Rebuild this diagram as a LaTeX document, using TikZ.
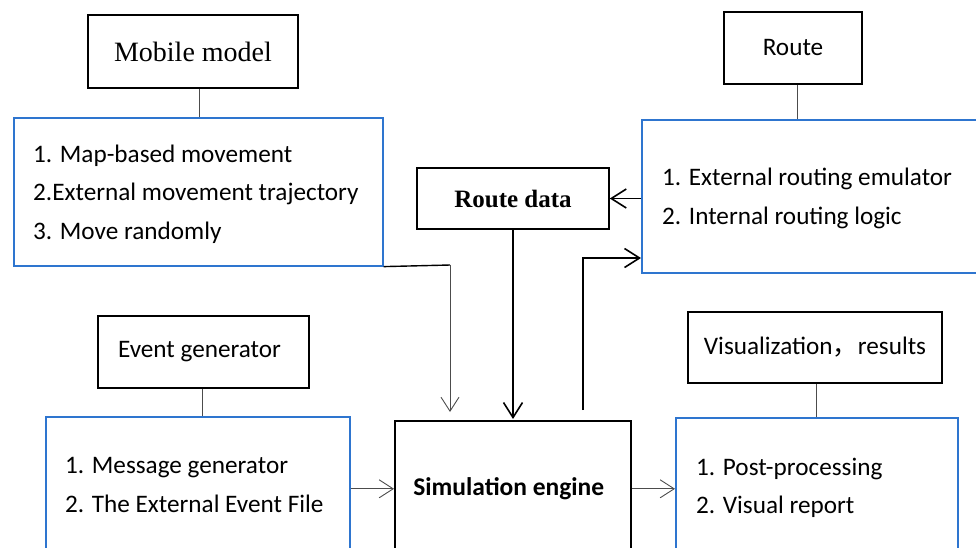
\documentclass[tikz,border=0pt]{standalone}
\usepackage{fontspec}
\usetikzlibrary{arrows.meta}
\newfontfamily\calibri{Carlito}
\newfontfamily\cjkf{Noto Sans CJK SC}
\newfontfamily\libser{Liberation Serif}
\definecolor{boxblue}{RGB}{46,117,207}
\begin{document}
\begin{tikzpicture}[x=1pt,y=-1pt,
  blackbox/.style={draw=black, line width=1.6pt, inner sep=0pt},
  bluebox/.style={draw=boxblue, line width=1.6pt, inner sep=0pt},
  cfont/.style={font=\calibri\fontsize{25.2}{28}\selectfont},
  ltext/.style={anchor=base west, inner sep=0pt, cfont},
  conn/.style={draw=black!70, line width=0.9pt},
  thinarrow/.style={draw=black!70, line width=0.9pt, -{Straight Barb[length=14pt,width=18pt]}},
  thickarrow/.style={draw=black, line width=1.6pt, -{Straight Barb[length=15pt,width=19pt]}}]
\useasboundingbox (0,0) rectangle (976,547);
\clip (0,0) rectangle (976,547);

% Mobile model
\node[blackbox, minimum width=210pt, minimum height=73pt, font=\libser\fontsize{28}{32}\selectfont] (mm) at (193,51.5) {Mobile model};
\node[bluebox, minimum width=369pt, minimum height=148pt, anchor=north west] (ml) at (13,117) {};
\node[ltext] (ml1) at (33,162) {1. Map-based movement};
\node[ltext] (ml2) at (33,200) {2.External movement trajectory};
\node[ltext] (ml3) at (33,239) {3. Move randomly};

% Route data
\node[blackbox, minimum width=192pt, minimum height=61pt, font=\libser\bfseries\fontsize{25}{30}\selectfont] (rd) at (513,198.5) {Route data};

% Route
\node[blackbox, minimum width=138pt, minimum height=72pt, cfont] (rt) at (793,48) {Route};
\node[bluebox, minimum width=345pt, minimum height=153pt, anchor=north west] (rl) at (641,119) {};
\node[ltext] (rl1) at (662,185) {1. External routing emulator};
\node[ltext] (rl2) at (662,224) {2. Internal routing logic};

% Event generator
\node[blackbox, minimum width=211pt, minimum height=72pt, cfont] (eg) at (203.5,352) {\hspace*{-8pt}Event generator};
\node[bluebox, minimum width=304pt, minimum height=150pt, anchor=north west] (el) at (45,416) {};
\node[ltext] (el1) at (65,473) {1. Message generator};
\node[ltext] (el2) at (65,512) {2. The External Event File};

% Simulation engine
\node[blackbox, minimum width=236pt, minimum height=136pt, anchor=north west, font=\calibri\bfseries\fontsize{25.5}{28}\selectfont] (sim) at (394,420) {Simulation engine\hspace*{8pt}};

% Visualization
\node[blackbox, minimum width=254pt, minimum height=71pt, cfont] (vr) at (815,347.5) {Visualization{\cjkf ，}results};
\node[bluebox, minimum width=282pt, minimum height=150pt, anchor=north west] (vl) at (675,417) {};
\node[ltext] (vl1) at (696,475) {1. Post-processing};
\node[ltext] (vl2) at (696,513) {2. Visual report};

% plain connectors
\draw[conn] ([xshift=6pt]mm.south) -- ([xshift=6pt]mm.south |- ml.north);
\draw[conn] ([xshift=4pt]rt.south) -- ([xshift=4pt]rt.south |- rl.north);
\draw[conn] ([xshift=-1.5pt]eg.south) -- ([xshift=-1.5pt]eg.south |- el.north);
\draw[conn] ([xshift=1pt]vr.south) -- ([xshift=1pt]vr.south |- vl.north);

% arrows
\coordinate (mturn) at (450,265);
\draw[black, line width=1.4pt] (ml.south east) -- (mturn);
\draw[thinarrow, shorten >=8pt] (mturn) -- (mturn |- sim.north);
\draw[thickarrow, shorten >=1pt] (rd.south) -- (rd.south |- sim.north);
\draw[thickarrow] (rl.west |- rd.east) -- (rd.east);
\coordinate (s0) at (583,410);
\coordinate (s1) at (583,258);
\draw[thickarrow] (s0) -- (s1) -- (s1 -| rl.west);
\draw[thinarrow] (el.east |- sim.west) -- (sim.west);
\draw[thinarrow] (sim.east) -- (sim.east -| vl.west);
\end{tikzpicture}
\end{document}
